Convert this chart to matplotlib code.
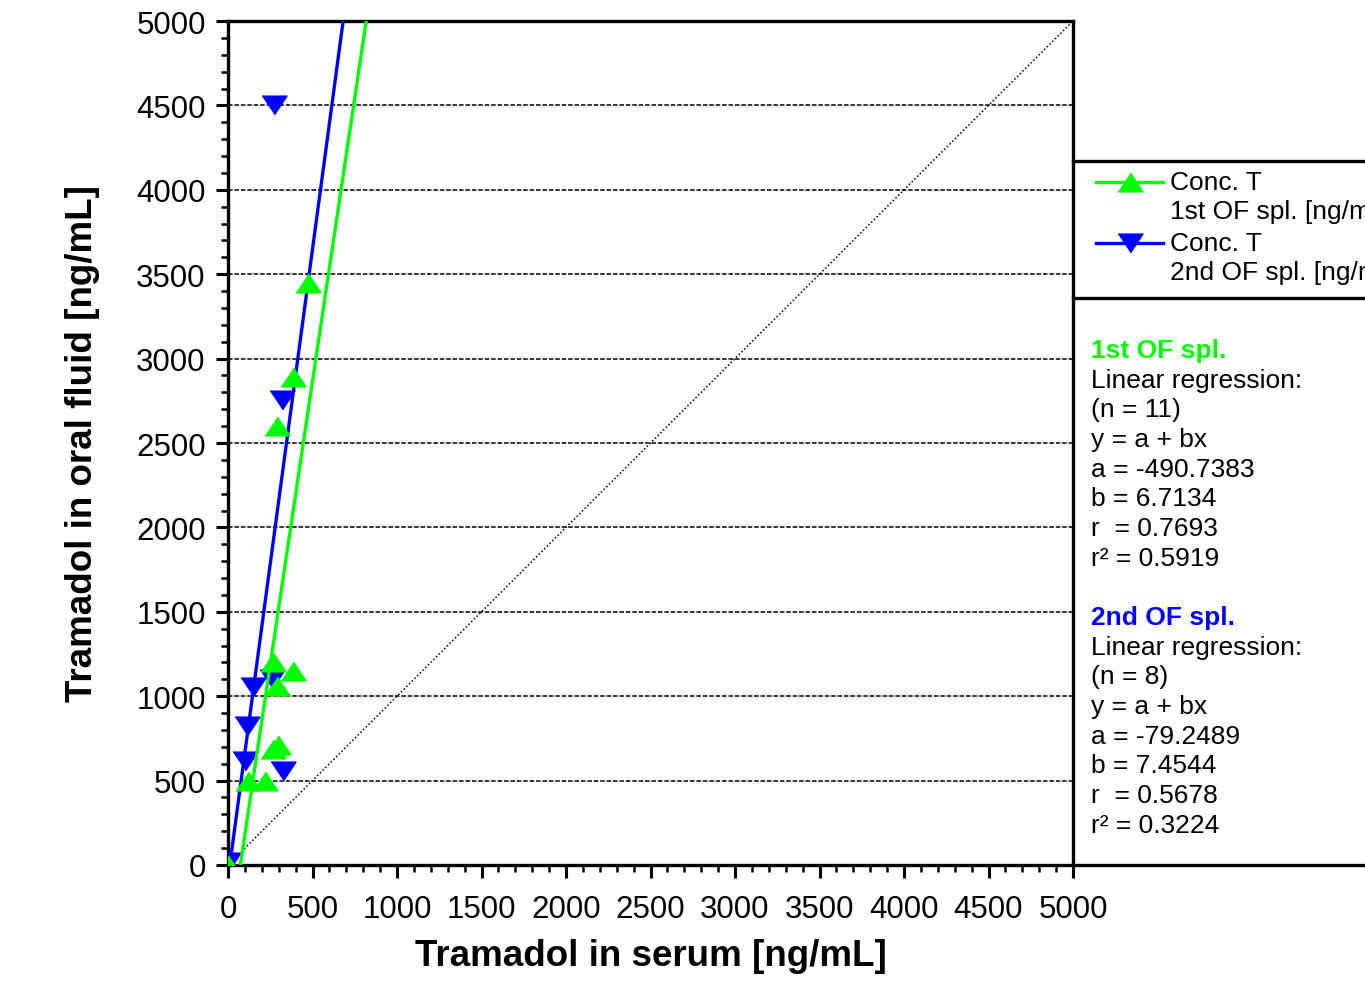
import numpy as np
import matplotlib.pyplot as plt
from matplotlib.lines import Line2D

plt.rcParams['font.family'] = ['Liberation Sans', 'DejaVu Sans']

# Tramadol concentrations: serum vs oral fluid (ng/mL)
serum_1st = [0, 118, 219, 265, 295, 266, 385, 290, 290, 385, 473]
of_1st = [0, 500, 500, 690, 710, 1200, 1148, 1060, 2600, 2890, 3450]

serum_2nd = [0, 100, 112, 148, 260, 325, 320, 272]
of_2nd = [15, 615, 822, 1053, 1100, 556, 2757, 4503]

# Linear regression results (y = a + bx)
a_1st, b_1st = -490.7383, 6.7134
a_2nd, b_2nd = -79.2489, 7.4544
stats_1st = ['Linear regression:', '(n = 11)', 'y = a + bx', 'a = -490.7383',
             'b = 6.7134', 'r  = 0.7693', 'r\u00b2 = 0.5919']
stats_2nd = ['Linear regression:', '(n = 8)', 'y = a + bx', 'a = -79.2489',
             'b = 7.4544', 'r  = 0.5678', 'r\u00b2 = 0.3224']
legend_labels = [('Conc. T', '1st OF spl. [ng/mL]'), ('Conc. T', '2nd OF spl. [ng/mL]')]

green = '#00ff00'
blue = '#0000ff'

W, H = 1365, 987
fig = plt.figure(figsize=(W / 100, H / 100), dpi=100)
ax = fig.add_axes([228 / W, 1 - 866 / H, 845 / W, 844 / H])

# triangle a bit flatter than the stock one
tri_up = [(-1, -0.75), (1, -0.75), (0, 0.75)]
tri_dn = [(-1, 0.75), (1, 0.75), (0, -0.75)]

xfit = np.array([0, 5000])
ax.plot([0, 5000], [0, 5000], color='black', lw=1.1, ls=(0, (1, 1.5)), zorder=1)
ax.plot(xfit, a_2nd + b_2nd * xfit, color=blue, lw=2.4, zorder=3)
ax.plot(serum_2nd, of_2nd, ls='none', marker=tri_dn, ms=18, color=blue, zorder=3)
ax.plot(xfit, a_1st + b_1st * xfit, color=green, lw=2.4, zorder=4)
ax.plot(serum_1st, of_1st, ls='none', marker=tri_up, ms=18, color=green, zorder=4)

ax.set_xlim(0, 5000)
ax.set_ylim(0, 5000)
ax.set_xticks(np.arange(0, 5001, 500))
ax.set_yticks(np.arange(0, 5001, 500))
ax.set_xticks(np.arange(0, 5001, 100), minor=True)
ax.set_yticks(np.arange(0, 5001, 100), minor=True)
ax.tick_params(which='major', length=9, width=2.2, labelsize=22.5, direction='out')
ax.tick_params(which='minor', length=5, width=1.8, direction='out')
ax.tick_params(axis='x', which='major', pad=12)
ax.tick_params(axis='y', which='major', pad=7)
for s in ax.spines.values():
    s.set_linewidth(2.4)

for yv in range(500, 5000, 500):
    ax.axhline(yv, color='black', lw=1.1, ls=(0, (3, 1.2)), zorder=0.5)

ax.set_xlabel('Tramadol in serum [ng/mL]', fontsize=26.5, fontweight='bold')
ax.set_ylabel('Tramadol in oral fluid [ng/mL]', fontsize=26.5, fontweight='bold')
ax.xaxis.set_label_coords(0.5, -0.086)
ax.yaxis.set_label_coords(-0.152, 0.5)

# frame lines of the side panel
for py in (162, 299, 866):
    fig.add_artist(Line2D([1073 / W, 1.0], [1 - py / H, 1 - py / H],
                          color='black', lw=2.4))

# legend: handle sits on the first line of each two-line label
for (first, second), col, mk, py in zip(legend_labels, (green, blue),
                                        (tri_up, tri_dn), (183, 244)):
    fig.add_artist(Line2D([1096 / W, 1163 / W], [1 - py / H, 1 - py / H],
                          color=col, lw=2.4))
    fig.add_artist(Line2D([1129.5 / W], [1 - py / H], color=col, marker=mk,
                          ms=18, ls='none'))
    fig.text(1170 / W, 1 - py / H, first, fontsize=19, va='center', ha='left')
    fig.text(1170 / W, 1 - (py + 29.5) / H, second, fontsize=19, va='center', ha='left')

step = 29.7
fig.text(1091 / W, 1 - 351 / H, '1st OF spl.', color=green, fontsize=19,
         fontweight='bold', va='center', ha='left')
for i, line in enumerate(stats_1st):
    fig.text(1091 / W, 1 - (351 + step * (i + 1)) / H, line, fontsize=19,
             va='center', ha='left')
fig.text(1091 / W, 1 - 618 / H, '2nd OF spl.', color=blue, fontsize=19,
         fontweight='bold', va='center', ha='left')
for i, line in enumerate(stats_2nd):
    fig.text(1091 / W, 1 - (618 + step * (i + 1)) / H, line, fontsize=19,
             va='center', ha='left')

fig.savefig('out.png', dpi=100)
